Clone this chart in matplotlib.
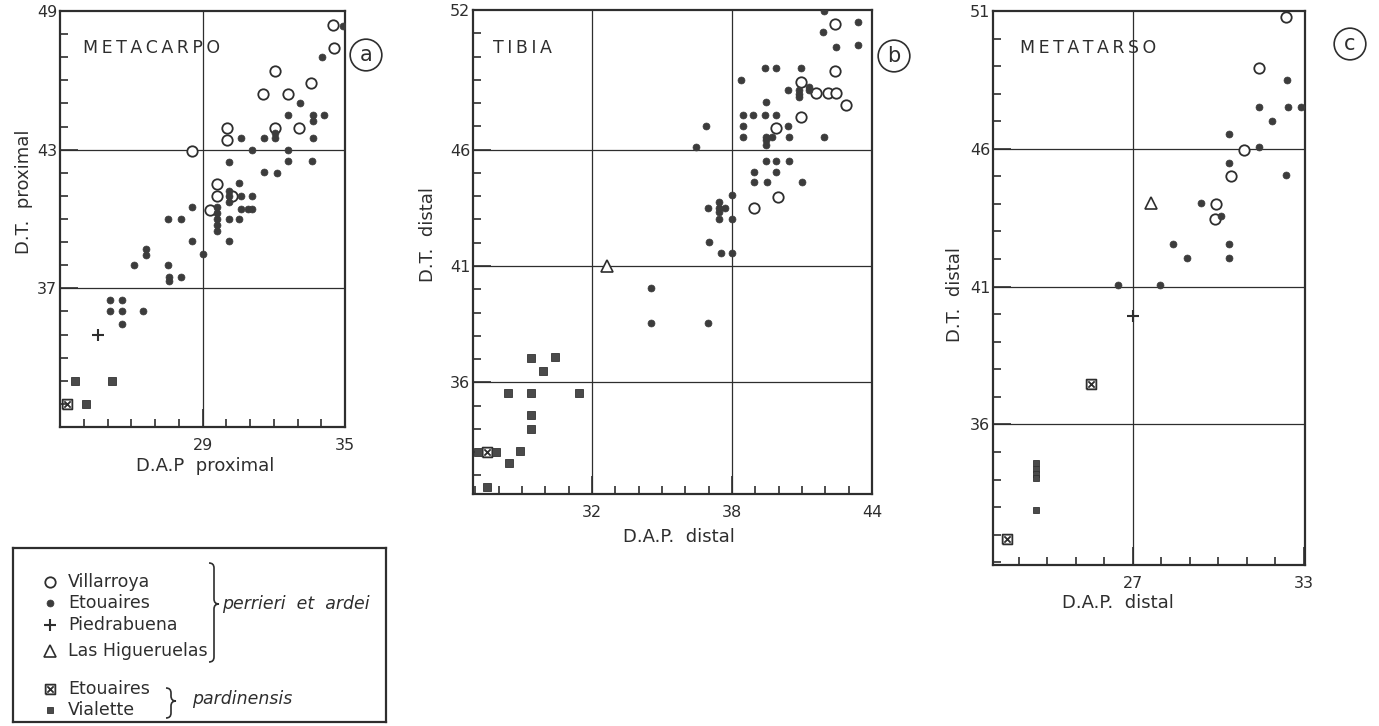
import numpy as np
import matplotlib
matplotlib.use("Agg")
import matplotlib.pyplot as plt
from matplotlib.path import Path
from matplotlib.patches import PathPatch

plt.rcParams['font.family'] = ['DejaVu Sans']

# ---- data ----
# panel a : metacarpo, (D.A.P proximal, D.T. proximal)
a_villarroya = [(34.5, 48.4), (34.55, 47.4), (32.05, 46.4), (33.55, 45.9), (31.55, 45.4),
                (32.6, 45.4), (30.05, 43.95), (32.05, 43.95), (33.05, 43.95), (30.05, 43.4),
                (28.55, 42.95), (29.6, 41.5), (29.6, 41.0), (30.25, 41.0), (29.3, 40.4)]
a_etouaires = [(34.9, 48.35), (34.05, 47.0), (33.1, 45.0), (32.6, 44.5), (33.65, 44.5),
               (33.65, 44.25), (34.1, 44.5), (32.05, 43.7), (32.05, 43.5), (30.6, 43.5),
               (31.6, 43.5), (33.65, 43.5), (31.1, 43.0), (32.6, 43.0), (30.1, 42.45),
               (32.6, 42.5), (33.6, 42.5), (31.6, 42.05), (32.15, 42.0), (30.55, 41.55),
               (30.1, 41.2), (30.1, 41.0), (30.1, 40.75), (30.6, 41.0), (31.1, 41.0),
               (29.6, 40.5), (29.6, 40.25), (29.6, 40.0), (29.6, 39.75), (29.6, 39.5),
               (30.6, 40.45), (30.9, 40.45), (31.1, 40.45), (28.55, 40.5), (30.1, 40.0),
               (30.55, 40.0), (27.55, 40.0), (28.1, 40.0), (28.55, 39.05), (30.1, 39.05),
               (29.0, 38.5), (26.6, 38.7), (26.6, 38.45), (26.1, 38.0), (27.55, 38.0),
               (27.6, 37.5), (27.6, 37.3), (28.1, 37.5), (25.1, 36.5), (25.6, 36.5),
               (25.1, 36.0), (25.6, 36.0), (26.5, 36.0), (25.6, 35.45)]
a_piedrabuena = [(24.6, 35.0)]
a_higueruelas = []
a_etouaires_pard = [(23.3, 32.0)]
a_vialette = [(23.65, 33.0), (25.2, 33.0), (24.1, 32.0)]

# panel b : tibia, (D.A.P. distal, D.T. distal)
b_villarroya = [(42.4, 51.4), (42.4, 49.4), (40.95, 48.9), (41.6, 48.45), (42.1, 48.45),
                (42.45, 48.45), (42.9, 47.9), (40.95, 47.4), (39.9, 46.95), (39.95, 43.95),
                (38.95, 43.5)]
b_etouaires = [(41.95, 51.95), (43.4, 51.5), (41.9, 51.05), (43.4, 50.5), (42.45, 50.4),
               (39.4, 49.5), (39.9, 49.5), (40.95, 49.5), (38.4, 49.0), (40.4, 48.55),
               (40.85, 48.55), (40.85, 48.4), (40.85, 48.25), (41.3, 48.7), (41.3, 48.55),
               (39.45, 48.05), (38.45, 47.5), (38.9, 47.5), (39.4, 47.5), (39.9, 47.5),
               (36.9, 47.0), (38.45, 47.0), (40.4, 47.0), (38.45, 46.55), (39.45, 46.55),
               (39.7, 46.55), (39.45, 46.4), (39.45, 46.2), (40.45, 46.55), (41.95, 46.55),
               (36.45, 46.1), (39.45, 45.5), (39.9, 45.5), (40.45, 45.5), (38.95, 45.05),
               (39.9, 45.05), (38.95, 44.6), (39.5, 44.6), (41.0, 44.6), (37.98, 44.05),
               (36.95, 43.5), (37.45, 43.75), (37.45, 43.5), (37.45, 43.3), (37.7, 43.5),
               (37.45, 43.0), (37.98, 43.0), (37.0, 42.05), (37.55, 41.55), (38.0, 41.55),
               (34.55, 40.05), (34.55, 38.55), (36.95, 38.55)]
b_piedrabuena = []
b_higueruelas = [(32.65, 41.0)]
b_etouaires_pard = [(27.5, 33.0)]
b_vialette = [(29.4, 37.05), (30.4, 37.1), (29.9, 36.5), (28.4, 35.55), (29.4, 35.55),
              (31.45, 35.55), (29.4, 34.6), (29.4, 34.0), (27.1, 33.0), (27.9, 33.0),
              (28.9, 33.05), (28.45, 32.55), (27.5, 31.5)]

# panel c : metatarso, (D.A.P. distal, D.T. distal)
c_villarroya = [(32.37, 50.8), (31.43, 48.95), (30.9, 45.95), (30.45, 45.0), (29.93, 44.0),
                (29.9, 43.45)]
c_etouaires = [(32.43, 48.5), (31.43, 47.5), (32.47, 47.5), (32.9, 47.5), (31.9, 47.0),
               (30.4, 46.55), (31.43, 46.05), (30.4, 45.5), (32.4, 45.05), (29.4, 44.05),
               (30.1, 43.55), (28.43, 42.55), (30.4, 42.55), (28.9, 42.05), (30.38, 42.05),
               (26.5, 41.05), (27.95, 41.05)]
c_piedrabuena = [(27.0, 39.95)]
c_higueruelas = [(27.63, 44.05)]
c_etouaires_pard = [(25.55, 37.45), (22.6, 31.85)]
c_vialette = [(23.6, 34.6), (23.62, 34.4), (23.62, 34.2), (23.62, 34.05), (23.6, 32.9)]

legend_names = ['Villarroya', 'Etouaires', 'Piedrabuena', 'Las Higueruelas', 'Etouaires', 'Vialette']

W, H = 1379, 726
INK = '#2e2e2e'
DOT = '#3c3c3c'


def fx(px):
    return px / W


def fy(py):
    return 1 - py / H


def box(l, t, r, b):
    return [fx(l), fy(b), (r - l) / W, (b - t) / H]


def spaced(s):
    # wide letter spacing of the original captions
    return '\u2009'.join(s)


# crossed square marker
xsq = Path([(-1, -1), (1, -1), (1, 1), (-1, 1), (-1, -1), (-0.65, -0.65), (0.65, 0.65),
            (-0.65, 0.65), (0.65, -0.65)],
           [Path.MOVETO, Path.LINETO, Path.LINETO, Path.LINETO, Path.LINETO,
            Path.MOVETO, Path.LINETO, Path.MOVETO, Path.LINETO])

styles = {
    'villarroya': dict(marker='o', ms=7.5, mfc='white', mec=INK, mew=1.3),
    'etouaires': dict(marker='o', ms=5, mfc=DOT, mec=DOT, mew=0.5),
    'piedrabuena': dict(marker='+', ms=9, mec=INK, mew=1.5),
    'higueruelas': dict(marker='^', ms=8, mfc='white', mec=INK, mew=1.2),
    'etouaires_pard': dict(marker=xsq, ms=7, mfc='none', mec=INK, mew=1.3),
    'vialette': dict(marker='s', ms=6, mfc='#4a4a4a', mec='#333333', mew=0.6),
}


def scatter(ax, pts, key, ms=None):
    if not pts:
        return
    xs = [p[0] for p in pts]
    ys = [p[1] for p in pts]
    st = dict(styles[key])
    if ms:
        st['ms'] = ms
    ax.plot(xs, ys, ls='none', zorder=3, **st)


def setup(ax, xlim, ylim, xmajor, ymajor, vlines, hlines):
    ax.set_xlim(*xlim)
    ax.set_ylim(*ylim)
    for v in vlines:
        ax.axvline(v, color=INK, lw=0.9, zorder=1)
    for h in hlines:
        ax.axhline(h, color=INK, lw=0.9, zorder=1)
    ax.set_xticks(xmajor)
    ax.set_yticks(ymajor)
    ax.set_xticks(np.arange(np.ceil(xlim[0]), xlim[1] + 0.01, 1), minor=True)
    ax.set_yticks(np.arange(np.ceil(ylim[0]), ylim[1] + 0.01, 1), minor=True)
    ax.tick_params(which='both', direction='in', color=INK, width=1.2,
                   top=False, right=False)
    ax.tick_params(which='major', length=13, labelsize=11.5, labelcolor=INK)
    ax.tick_params(axis='x', which='major', pad=8)
    ax.tick_params(axis='y', which='major', pad=2)
    ax.tick_params(which='minor', length=6)
    for s in ax.spines.values():
        s.set_linewidth(1.6)
        s.set_color(INK)


fig = plt.figure(figsize=(W / 100, H / 100), dpi=100)

# panel a
ax = fig.add_axes(box(60, 11, 345, 427))
setup(ax, (23, 35), (31, 49), [29, 35], [37, 43, 49], [29], [37, 43])
scatter(ax, a_villarroya, 'villarroya')
scatter(ax, a_etouaires, 'etouaires')
scatter(ax, a_piedrabuena, 'piedrabuena')
scatter(ax, a_etouaires_pard, 'etouaires_pard')
scatter(ax, a_vialette, 'vialette')

# panel b
ax = fig.add_axes(box(473, 10, 872, 494))
setup(ax, (26.9, 44), (31.2, 52), [32, 38, 44], [36, 41, 46, 52], [32, 38], [36, 41, 46])
scatter(ax, b_villarroya, 'villarroya')
scatter(ax, b_etouaires, 'etouaires')
scatter(ax, b_higueruelas, 'higueruelas')
scatter(ax, b_etouaires_pard, 'etouaires_pard')
scatter(ax, b_vialette, 'vialette')

# panel c
ax = fig.add_axes(box(993, 11, 1305, 565))
setup(ax, (22.1, 33.05), (30.9, 51), [27, 33], [36, 41, 46, 51], [27], [36, 41, 46])
scatter(ax, c_villarroya, 'villarroya')
scatter(ax, c_etouaires, 'etouaires')
scatter(ax, c_piedrabuena, 'piedrabuena')
scatter(ax, c_higueruelas, 'higueruelas')
scatter(ax, c_etouaires_pard, 'etouaires_pard')
scatter(ax, c_vialette, 'vialette', ms=4.5)

# titles, axis labels, circled letters
tk = dict(color=INK, fontsize=12.5)
fig.text(fx(83), fy(48), spaced('METACARPO'), va='center', ha='left', **tk)
fig.text(fx(493), fy(48), spaced('TIBIA'), va='center', ha='left', **tk)
fig.text(fx(1020), fy(48), spaced('METATARSO'), va='center', ha='left', **tk)

lk = dict(color=INK, fontsize=13, ha='center', va='center')
fig.text(fx(24), fy(192), 'D.T.  proximal', rotation=90, **lk)
fig.text(fx(205), fy(466), 'D.A.P  proximal', **lk)
fig.text(fx(428), fy(235), 'D.T.  distal', rotation=90, **lk)
fig.text(fx(679), fy(537), 'D.A.P.  distal', **lk)
fig.text(fx(955), fy(294), 'D.T.  distal', rotation=90, **lk)
fig.text(fx(1118), fy(603), 'D.A.P.  distal', **lk)

ck = dict(color=INK, fontsize=15, ha='center', va='center',
          bbox=dict(boxstyle='circle,pad=0.28', fc='white', ec=INK, lw=1.2))
fig.text(fx(366), fy(55), 'a', **ck)
fig.text(fx(894), fy(56), 'b', **ck)
fig.text(fx(1350), fy(44), 'c', **ck)

# legend box
lg = fig.add_axes(box(13, 548, 386, 722))
lg.set_xlim(13, 386)
lg.set_ylim(722, 548)
lg.set_xticks([])
lg.set_yticks([])
for s in lg.spines.values():
    s.set_linewidth(1.6)
    s.set_color(INK)

rows_y = [582, 603, 625, 651, 689, 710]
keys = ['villarroya', 'etouaires', 'piedrabuena', 'higueruelas', 'etouaires_pard', 'vialette']
for name, key, yy in zip(legend_names, keys, rows_y):
    st = dict(styles[key])
    if key == 'vialette':
        st['ms'] = 5
    lg.plot([50], [yy], ls='none', **st)
    lg.text(68, yy, name, fontsize=12.5, color=INK, va='center', ha='left')


def brace(ax, x, y0, y1, ym, w=5):
    verts = [(x - w, y0), (x, y0), (x, y0 + w), (x, ym - w), (x, ym), (x + w, ym),
             (x, ym), (x, ym + w), (x, y1 - w), (x, y1), (x - w, y1)]
    codes = [Path.MOVETO, Path.CURVE3, Path.CURVE3, Path.LINETO, Path.CURVE3, Path.CURVE3,
             Path.CURVE3, Path.CURVE3, Path.LINETO, Path.CURVE3, Path.CURVE3]
    ax.add_patch(PathPatch(Path(verts, codes), fc='none', ec=INK, lw=1.2))


brace(lg, 214, 563, 662, 604)
brace(lg, 171, 688, 718, 701)
lg.text(222, 604, 'perrieri  et  ardei', style='italic', fontsize=12.5, color=INK,
        va='center', ha='left')
lg.text(192, 699, 'pardinensis', style='italic', fontsize=12.5, color=INK,
        va='center', ha='left')

fig.savefig('out.png', dpi=100)
